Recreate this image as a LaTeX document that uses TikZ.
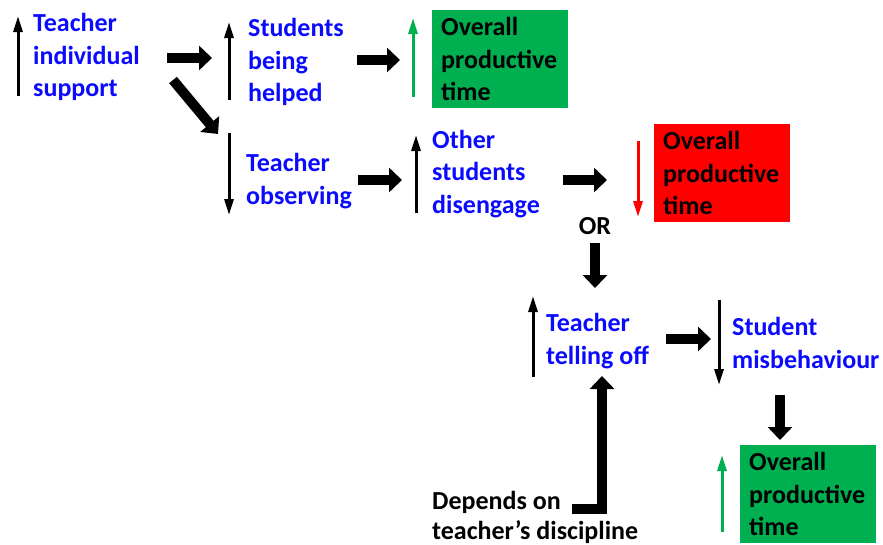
\documentclass[tikz,border=0pt]{standalone}
\usepackage{fontspec}
\setmainfont{Carlito}
\usetikzlibrary{arrows.meta}
\definecolor{txtblue}{RGB}{10,10,255}
\definecolor{boxgreen}{RGB}{0,176,80}
\definecolor{boxred}{RGB}{255,0,0}
\begin{document}
\begin{tikzpicture}[x=1pt,y=-1pt,
  lbl/.style={font=\bfseries\fontsize{26}{32.5}\selectfont, text=txtblue, align=left, inner sep=0pt, anchor=west},
  blk/.style={lbl, text=black},
  outbox/.style={font=\bfseries\fontsize{26}{32.5}\selectfont, text=black, align=left, anchor=north west,
    minimum height=98pt, text width=118pt, inner xsep=9pt, inner ysep=0pt},
  indarrow/.style={line width=3pt, -{Triangle[length=16pt,width=9pt]}},
  bigarrow/.style={line width=10pt, -{Triangle[length=13pt,width=24pt]}},
]
\useasboundingbox (0,0) rectangle (883,544);

% text nodes
\node[lbl] (t1) at (33,57) {Teacher\\individual\\support};
\node[lbl] (t2) at (248,62) {Students\\being\\helped};
\node[lbl] (t3) at (246,181) {Teacher\\observing};
\node[lbl] (t4) at (432,174) {Other\\students\\disengage};
\node[lbl] (t5) at (546,341) {Teacher\\telling off};
\node[lbl] (t6) at (732,343) {Student\\misbehaviour};
\node[blk, anchor=center] (or) at (595,226) {OR};
\node[blk, font=\bfseries\fontsize{26}{30}\selectfont] (dep) at (432,517) {Depends on\\teacher’s discipline};

% boxes
\node[outbox, fill=boxgreen] (g1) at (432,10) {Overall\\productive\\time};
\node[outbox, fill=boxred] (r1) at (654,124) {Overall\\productive\\time};
\node[outbox, fill=boxgreen] (g2) at (740,445) {Overall\\productive\\time};

% coordinates for thick arrows
\coordinate (a1s) at (167,58);  \coordinate (a1e) at (212,58);
\coordinate (a2s) at (173,80);  \coordinate (a2e) at (218,134);
\coordinate (a3s) at (357,60);  \coordinate (a3e) at (400,60);
\coordinate (a4s) at (358,180); \coordinate (a4e) at (402,180);
\coordinate (a5s) at (563,180); \coordinate (a5e) at (607,180);
\coordinate (a6s) at (595,243); \coordinate (a6e) at (595,288);
\coordinate (a7s) at (666,339); \coordinate (a7e) at (711,339);
\coordinate (a8s) at (780,395); \coordinate (a8e) at (780,440);
\coordinate (e1) at (572,509); \coordinate (e2) at (602,509); \coordinate (e3) at (602,376);

\draw[bigarrow] (a1s) -- (a1e);
\draw[bigarrow] (a2s) -- (a2e);
\draw[bigarrow] (a3s) -- (a3e);
\draw[bigarrow] (a4s) -- (a4e);
\draw[bigarrow] (a5s) -- (a5e);
\draw[bigarrow] (a6s) -- (a6e);
\draw[bigarrow] (a7s) -- (a7e);
\draw[bigarrow] (a8s) -- (a8e);
\draw[bigarrow, line join=miter] (e1) -- (e2) -- (e3);

% indicator arrows
\coordinate (i1s) at (18,96);   \coordinate (i1e) at (18,16);
\coordinate (i2s) at (229,100); \coordinate (i2e) at (229,22);
\coordinate (i3s) at (413,97);  \coordinate (i3e) at (413,18);
\coordinate (i4s) at (229,133); \coordinate (i4e) at (229,215);
\coordinate (i5s) at (416,213); \coordinate (i5e) at (416,135);
\coordinate (i6s) at (638,141); \coordinate (i6e) at (638,217);
\coordinate (i7s) at (533,377); \coordinate (i7e) at (533,296);
\coordinate (i8s) at (719,300); \coordinate (i8e) at (719,385);
\coordinate (i9s) at (722,532); \coordinate (i9e) at (722,455);

\draw[indarrow] (i1s) -- (i1e);
\draw[indarrow] (i2s) -- (i2e);
\draw[indarrow, boxgreen] (i3s) -- (i3e);
\draw[indarrow] (i4s) -- (i4e);
\draw[indarrow] (i5s) -- (i5e);
\draw[indarrow, boxred] (i6s) -- (i6e);
\draw[indarrow] (i7s) -- (i7e);
\draw[indarrow] (i8s) -- (i8e);
\draw[indarrow, boxgreen] (i9s) -- (i9e);
\end{tikzpicture}
\end{document}
